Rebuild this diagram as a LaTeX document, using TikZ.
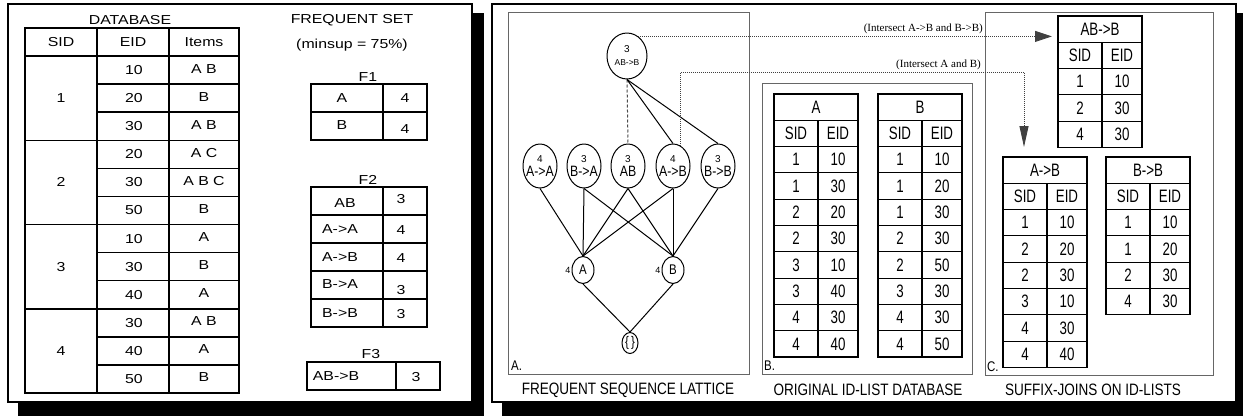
\documentclass[tikz,border=0pt]{standalone}
\usepackage{fontspec}
\setmainfont{Liberation Sans}
\newfontfamily\widef[FakeStretch=1.22]{Liberation Sans}
\newfontfamily\narf[FakeStretch=0.82]{Liberation Sans}
\newfontfamily\tnarf[FakeStretch=0.74]{Liberation Sans}
\newfontfamily\tmsf{Liberation Serif}
\usetikzlibrary{shapes.geometric,arrows.meta}
\newcommand\latc[1]{{\fontsize{10}{10}\selectfont #1}}
\newcommand\latn[1]{{\narf\fontsize{15}{15}\selectfont #1}}
\newcommand\idtab[5]{%
  \node[idcell,minimum width=84pt,anchor=north west] (#1) at (#2,#3) {#4};
  \node[idcell,minimum width=44pt,anchor=north west] (#1-hs) at (#2,{#3+26.3}) {SID};
  \node[idcell,minimum width=40pt,anchor=north west] (#1-he) at ({#2+44},{#3+26.3}) {EID};
  \foreach \sa/\ea [count=\k] in {#5} {
    \node[idcell,minimum width=44pt,anchor=north west] (#1-s\k) at (#2,{#3+(\k+1)*26.3}) {\sa};
    \node[idcell,minimum width=40pt,anchor=north west] (#1-e\k) at ({#2+44},{#3+(\k+1)*26.3}) {\ea};
  }%
}
\begin{document}
\begin{tikzpicture}[x=1pt,y=-1pt,
  frame/.style={draw=black,line width=2pt,fill=white},
  ibox/.style={draw=black!60,line width=0.9pt},
  tl/.style={line width=1.5pt},
  wt/.style={font=\widef\fontsize{13}{15}\selectfont,inner sep=0pt},
  nt/.style={font=\narf\fontsize{16.5}{18}\selectfont,inner sep=0pt},
  lt/.style={font=\narf\fontsize{14}{16}\selectfont,inner sep=0pt},
  idcell/.style={draw,line width=1.1pt,minimum height=26.3pt,inner sep=0pt,outer sep=0pt,font=\tnarf\fontsize{18}{20}\selectfont},
  lat/.style={draw,ellipse,line width=1pt,inner xsep=-6pt,inner ysep=-4pt,align=center},
  ed/.style={line width=1pt},
  dotl/.style={draw=black!75,line width=0.9pt,dash pattern=on 0.9pt off 1.1pt},
  tlab/.style={font=\tmsf\fontsize{11}{12}\selectfont,inner sep=0pt}]
\useasboundingbox (0,0) rectangle (1243,416);
\fill[white] (0,0) rectangle (1243,416);
% shadows and frames
\fill[black] (18,13) rectangle (484,416);
\fill[black] (502,13) rectangle (1243,416);
\draw[frame] (8,4) rectangle (472,402);
\draw[frame] (492,4) rectangle (1236,402);

% ---------- DATABASE ----------
\node[wt] (dbt) at (130,20) {DATABASE};
\draw[tl] (25,28) rectangle (239,393);
\draw[tl] (97,28) -- (97,393);
\draw[tl] (169,28) -- (169,393);
\draw[tl] (25,56) -- (239,56);
\foreach \i in {1,...,11} \draw[tl] (97,{56+\i*28.083}) -- (239,{56+\i*28.083});
\foreach \i in {3,6,9} \draw[tl] (25,{56+\i*28.083}) -- (97,{56+\i*28.083});
\node[wt] (h1) at (61,42) {SID};
\node[wt] (h2) at (133,42) {EID};
\node[wt] (h3) at (204,42) {Items};
\foreach \ee/\itm [count=\k from 0] in {10/A B,20/B,30/A B,20/A C,30/A B C,50/B,10/A,30/B,40/A,30/A B,40/A,50/B} {
  \node[wt] (de\k) at (134,{56+(\k+0.5)*28.083}) {\ee};
  \node[wt] (di\k) at (204,{56+(\k+0.5)*28.083-1.5}) {\itm};
}
\foreach \j in {1,...,4} \node[wt] (ds\j) at (61,{56+(3*\j-1.5)*28.083}) {\j};

% ---------- FREQUENT SET ----------
\node[wt] (fst) at (352,20) {FREQUENT SET};
\node[wt] (fsm) at (352,45) {(minsup = 75\%)};
\node[wt] (f1l) at (368,77) {F1};
\draw[tl] (311,84) rectangle (427,140);
\draw[tl] (383,84) -- (383,140);
\draw[tl] (311,112) -- (427,112);
\node[wt] (f1a) at (342,98) {A};
\node[wt] (f1ac) at (405,98) {4};
\node[wt] (f1b) at (342,125) {B};
\node[wt] (f1bc) at (405,129) {4};

\node[wt] (f2l) at (368,180) {F2};
\draw[tl] (311,187) rectangle (427,327);
\draw[tl] (383,187) -- (383,327);
\foreach \yy in {215,243,271,299} \draw[tl] (311,\yy) -- (427,\yy);
\node[wt] (f2a) at (345,203) {AB};
\node[wt] (f2ac) at (401,199) {3};
\node[wt] (f2b) at (340,229) {A->A};
\node[wt] (f2bc) at (401,230) {4};
\node[wt] (f2c) at (340,257) {A->B};
\node[wt] (f2cc) at (401,258) {4};
\node[wt] (f2d) at (340,284) {B->A};
\node[wt] (f2dc) at (401,290) {3};
\node[wt] (f2e) at (340,313) {B->B};
\node[wt] (f2ec) at (401,314) {3};

\node[wt] (f3l) at (371,354) {F3};
\draw[tl] (307,362) rectangle (440,390);
\draw[tl] (396,362) -- (396,390);
\node[wt] (f3a) at (336,376) {AB->B};
\node[wt] (f3ac) at (416,377) {3};

% ---------- inner boxes ----------
\draw[ibox] (508,12) rectangle (749,374);
\draw[ibox] (762,83) rectangle (972,374);
\draw[ibox] (985,12) rectangle (1213,375);
\node[lt,anchor=west] (la) at (511,366) {A.};
\node[lt,anchor=west] (lb) at (764,366) {B.};
\node[lt,anchor=west] (lc) at (987,367) {C.};
\node[nt] (capa) at (628,390) {FREQUENT SEQUENCE LATTICE};
\node[nt] (capb) at (868,390) {ORIGINAL ID-LIST DATABASE};
\node[nt] (capc) at (1093,390) {SUFFIX-JOINS ON ID-LISTS};

% ---------- lattice ----------
\node[lat,minimum width=40pt,minimum height=46pt] (abb) at (627,56)
  {{\fontsize{10}{10}\selectfont 3}\\[1pt]{\fontsize{8.5}{9}\selectfont AB->B}};
\node[lat,minimum width=34pt,minimum height=44pt] (aa) at (540,166) {\latc{4}\\[2pt]\latn{A->A}};
\node[lat,minimum width=34pt,minimum height=44pt] (ba) at (584,166) {\latc{3}\\[2pt]\latn{B->A}};
\node[lat,minimum width=34pt,minimum height=44pt] (ab) at (628,166) {\latc{3}\\[2pt]\latn{AB}};
\node[lat,minimum width=34pt,minimum height=44pt] (atb) at (673,166) {\latc{4}\\[2pt]\latn{A->B}};
\node[lat,minimum width=34pt,minimum height=44pt] (btb) at (718,166) {\latc{3}\\[2pt]\latn{B->B}};
\node[lat,minimum width=22pt,minimum height=27pt,font=\narf\fontsize{14}{14}\selectfont,
  label={[font=\fontsize{9}{9}\selectfont,inner sep=1pt]left:4}] (na) at (583,270) {A};
\node[lat,minimum width=22pt,minimum height=27pt,font=\narf\fontsize{14}{14}\selectfont,
  label={[font=\fontsize{9}{9}\selectfont,inner sep=1pt]left:4}] (nb) at (673,270) {B};
\node[lat,minimum width=16pt,minimum height=21pt,font=\narf\fontsize{14}{14}\selectfont] (emp) at (630,343) {\{\,\}};

\draw[ed,draw=black!70,dash pattern=on 3pt off 2pt] (abb.south) -- (ab.north);
\draw[ed] (abb.south) -- (atb.north);
\draw[ed] (abb.south) -- (btb.north);
\foreach \n in {aa,ba,ab,atb} \draw[ed] (\n.south) -- (na.north);
\foreach \n in {ba,ab,atb,btb} \draw[ed] (\n.south) -- (nb.north);
\draw[ed] (na.south) -- (emp.north);
\draw[ed] (nb.south) -- (emp.north);

% ---------- id-lists ----------
\idtab{ta}{774}{94}{A}{1/10,1/30,2/20,2/30,3/10,3/40,4/30,4/40}
\idtab{tb}{878}{94}{B}{1/10,1/20,1/30,2/30,2/50,3/30,4/30,4/50}
\idtab{tabb}{1058}{16}{AB->B}{1/10,2/30,4/30}
\idtab{tatb}{1003}{157}{A->B}{1/10,2/20,2/30,3/10,4/30,4/40}
\idtab{tbtb}{1106}{157}{B->B}{1/10,1/20,2/30,4/30}

% ---------- dotted joins ----------
\coordinate (tip1) at (1052,37);
\coordinate (corner2) at (1024,72);
\coordinate (tip2) at (1024,147);
\draw[dotl,-{Triangle[length=17pt,width=11pt]}] (abb.60) -- (abb.60 -| tip1);
\draw[dotl,-{Triangle[length=21pt,width=9pt]}] (atb.70) |- (corner2) -- (tip2);
\node[tlab,anchor=south east] (lab1) at (983,34) {(Intersect A->B and B->B)};
\node[tlab,anchor=south east] (lab2) at (981,70) {(Intersect A and B)};
\end{tikzpicture}
\end{document}
